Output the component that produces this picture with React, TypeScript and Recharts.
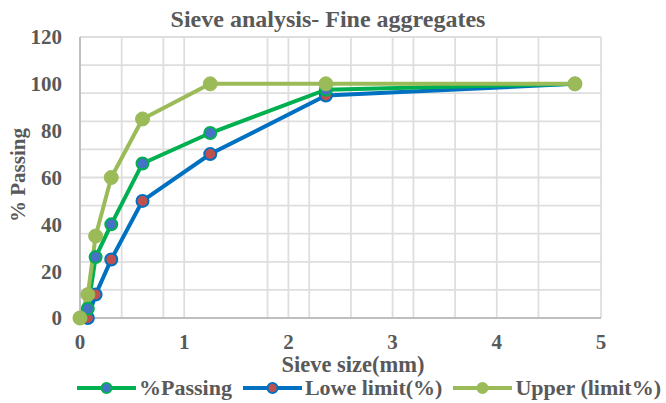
import React from 'react';
import { LineChart, Line, XAxis, YAxis, CartesianGrid, Legend } from 'recharts';

// sieve sizes in mm (pan = 0)
const sieveSizes = [0, 0.075, 0.15, 0.3, 0.6, 1.25, 2.36, 4.75];
const passing = [0, 4, 26, 40, 66, 79, 97.5, 100];
const lowerLimit = [null, 0, 10, 25, 50, 70, 95, 100];
const upperLimit = [0, 10, 35, 60, 85, 100, 100, 100];

const xTicks = [0, 1, 2, 3, 4, 5];
const yTicks = [0, 20, 40, 60, 80, 100, 120];
const gridX = Array.from({ length: 26 }, (_, i) => i * 0.2);
const gridY = Array.from({ length: 31 }, (_, i) => i * 4);

const data = sieveSizes.map((x, i) => ({
  x,
  passing: passing[i],
  lower: lowerLimit[i],
  upper: upperLimit[i],
}));

const FONT = '"Liberation Serif", "Times New Roman", serif';
const TEXT = '#595959';

const series = [
  { label: '%Passing', line: '#00B050', fill: '#4472C4' },
  { label: 'Lowe limit(%)', line: '#0070C0', fill: '#C0504D' },
  { label: 'Upper (limit%)', line: '#9BBB59', fill: '#9BBB59' },
];

function LegendContent() {
  return (
    <div style={{ display: 'flex', alignItems: 'center', paddingLeft: 77, gap: 11 }}>
      {series.map((s) => (
        <div key={s.label} style={{ display: 'flex', alignItems: 'center', gap: 3 }}>
          <svg width={59} height={16}>
            <line x1={0} y1={8} x2={59} y2={8} stroke={s.line} strokeWidth={4} />
            <circle cx={29.5} cy={8} r={5} fill={s.fill} stroke={s.line} strokeWidth={2} />
          </svg>
          <span style={{ fontFamily: FONT, fontWeight: 'bold', fontSize: 22, color: TEXT, lineHeight: '22px' }}>
            {s.label}
          </span>
        </div>
      ))}
    </div>
  );
}

export default function App() {
  const tick = { fill: TEXT, fontSize: 21, fontWeight: 'bold', fontFamily: FONT };
  return (
    <div style={{ position: 'absolute', left: 0, top: 0, width: 666, height: 403, background: '#fff' }}>
      <div
        style={{
          position: 'absolute', top: 6, left: -5, width: 666, textAlign: 'center',
          fontFamily: FONT, fontWeight: 'bold', fontSize: 24, color: TEXT, lineHeight: '26px',
        }}
      >
        Sieve analysis- Fine aggregates
      </div>
      <div
        style={{
          position: 'absolute', left: 18, top: 175, transform: 'translate(-50%, -50%) rotate(-90deg)',
          whiteSpace: 'nowrap', fontFamily: FONT, fontWeight: 'bold', fontSize: 21, color: TEXT, lineHeight: '22px',
        }}
      >
        % Passing
      </div>
      <div
        style={{
          position: 'absolute', left: 353, top: 357, transform: 'translateX(-50%)', whiteSpace: 'nowrap',
          fontFamily: FONT, fontWeight: 'bold', fontSize: 22.5, color: TEXT, lineHeight: '16px',
        }}
      >
        Sieve size(mm)
      </div>
      <LineChart width={666} height={403} data={data} margin={{ top: 37, right: 65, bottom: 55, left: 0 }}>
        <CartesianGrid
          stroke="#DEDEDE"
          strokeWidth={1.8}
          verticalValues={gridX}
          horizontalValues={gridY}
        />
        <XAxis
          dataKey="x"
          type="number"
          domain={[0, 5]}
          ticks={xTicks}
          height={30}
          tick={tick}
          tickLine={false}
          tickSize={0}
          tickMargin={16}
          axisLine={{ stroke: '#BFBFBF', strokeWidth: 2 }}
        />
        <YAxis
          type="number"
          domain={[0, 120]}
          ticks={yTicks}
          width={80}
          tick={tick}
          tickLine={false}
          tickSize={0}
          tickMargin={18}
          axisLine={{ stroke: '#BFBFBF', strokeWidth: 2 }}
        />
        <Line
          dataKey="lower"
          stroke="#0070C0"
          strokeWidth={4}
          dot={{ r: 6, fill: '#C0504D', stroke: '#0070C0', strokeWidth: 2 }}
          isAnimationActive={false}
        />
        <Line
          dataKey="passing"
          stroke="#00B050"
          strokeWidth={4}
          dot={{ r: 6, fill: '#4472C4', stroke: '#00B050', strokeWidth: 2 }}
          isAnimationActive={false}
        />
        <Line
          dataKey="upper"
          stroke="#9BBB59"
          strokeWidth={4}
          dot={{ r: 7, fill: '#9BBB59', stroke: '#9BBB59', strokeWidth: 1 }}
          isAnimationActive={false}
        />
        <Legend
          verticalAlign="middle"
          layout="horizontal"
          content={<LegendContent />}
          wrapperStyle={{ position: 'absolute', left: 0, top: 377, width: 666 }}
        />
      </LineChart>
    </div>
  );
}
